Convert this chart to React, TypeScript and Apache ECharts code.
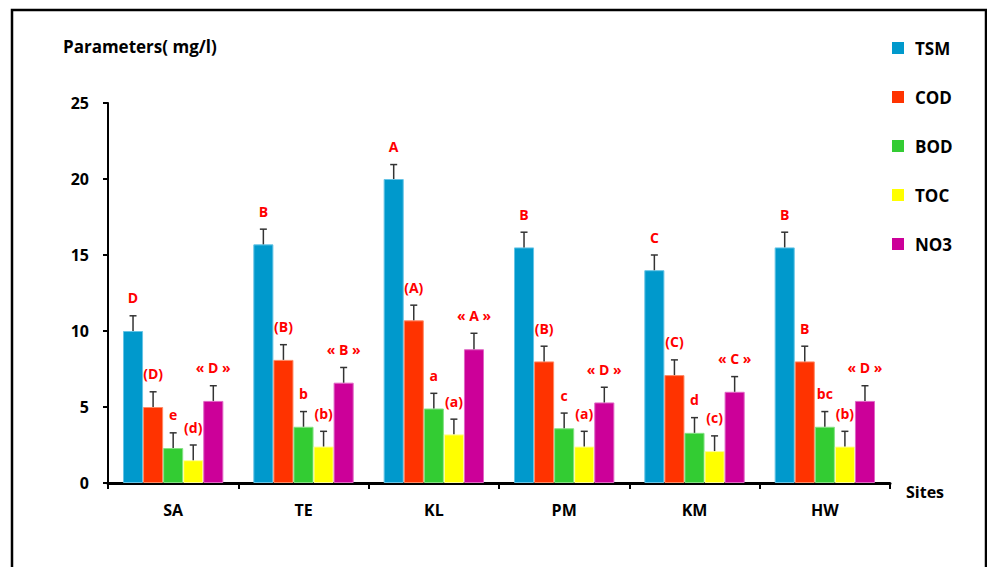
import React, { useEffect, useRef } from "react";
import * as echarts from "echarts";

const sites = ["SA", "TE", "KL", "PM", "KM", "HW"];
const seriesNames = ["TSM", "COD", "BOD", "TOC", "NO3"];
const colors = ["#0099CC", "#FF3300", "#33CC33", "#FFFF00", "#CC0099"];
const edgeColors = ["#66C4E6", "#FF8A66", "#85E085", "#FFFF99", "#E066C4"];

const tsm = [10.0, 15.7, 20.0, 15.5, 14.0, 15.5];
const cod = [5.0, 8.1, 10.7, 8.0, 7.1, 8.0];
const bod = [2.3, 3.7, 4.9, 3.6, 3.3, 3.7];
const toc = [1.5, 2.4, 3.2, 2.4, 2.1, 2.4];
const no3 = [5.4, 6.6, 8.8, 5.3, 6.0, 5.4];

const tsmErr = [1.0, 1.0, 0.95, 1.0, 1.0, 1.0];
const codErr = [1.0, 1.0, 1.0, 1.0, 1.0, 1.0];
const bodErr = [1.0, 1.0, 1.0, 1.0, 1.0, 1.0];
const tocErr = [1.0, 1.0, 1.0, 1.0, 1.0, 1.0];
const no3Err = [1.0, 1.0, 1.05, 1.0, 1.0, 1.0];

const tsmLabels = ["D", "B", "A", "B", "C", "B"];
const codLabels = ["(D)", "(B)", "(A)", "(B)", "(C)", "B"];
const bodLabels = ["e", "b", "a", "c", "d", "bc"];
const tocLabels = ["(d)", "(b)", "(a)", "(a)", "(c)", "(b)"];
const no3Labels = ["« D »", "« B »", "« A »", "« D »", "« C »", "« D »"];

const yTicks = [0, 5, 10, 15, 20, 25];

const values = [tsm, cod, bod, toc, no3];
const errors = [tsmErr, codErr, bodErr, tocErr, no3Err];
const labels = [tsmLabels, codLabels, bodLabels, tocLabels, no3Labels];

const FONT = "'Open Sans', Lato, sans-serif";
const GAP = 0.23;

export default function App() {
  const ref = useRef<HTMLDivElement>(null);
  useEffect(() => {
    if (!ref.current) return;
    const chart = echarts.init(ref.current, null, { renderer: "svg" });

    const barSeries = seriesNames.map((name, i) => ({
      name,
      type: "bar",
      data: values[i],
      barGap: "0%",
      barCategoryGap: GAP * 100 + "%",
      itemStyle: { color: colors[i], borderColor: edgeColors[i], borderWidth: 1 },
      z: 2,
    }));

    const errSeries = seriesNames.map((name, i) => ({
      name: name + "_err",
      type: "custom",
      z: 5,
      clip: false,
      encode: { x: 0, y: 1 },
      data: values[i].map((v, k) => [k, v, errors[i][k]]),
      renderItem: (params: any, api: any) => {
        const cat = api.value(0);
        const v = api.value(1);
        const e = api.value(2);
        const band = api.size([1, 0])[0];
        const bw = (band * (1 - GAP)) / seriesNames.length;
        const off = (i - (seriesNames.length - 1) / 2) * bw;
        const p0 = api.coord([cat, v]);
        const p1 = api.coord([cat, v + e]);
        const x = p0[0] + off;
        const lbl = labels[i][params.dataIndex];
        return {
          type: "group",
          children: [
            {
              type: "line",
              shape: { x1: x, y1: p0[1], x2: x, y2: p1[1] },
              style: { stroke: "#333333", lineWidth: 1.5 },
            },
            {
              type: "line",
              shape: { x1: x - 3.5, y1: p1[1], x2: x + 3.5, y2: p1[1] },
              style: { stroke: "#333333", lineWidth: 1.5 },
            },
            {
              type: "text",
              x: x,
              y: p1[1] - 18,
              style: {
                text: lbl,
                fill: "#FF0000",
                font: "bold 14px " + FONT,
                align: "center",
                verticalAlign: "middle",
              },
            },
          ],
        };
      },
    }));

    chart.setOption({
      animation: false,
      backgroundColor: "#ffffff",
      textStyle: { fontFamily: FONT },
      grid: { left: 108, top: 103, width: 782, height: 380, containLabel: false },
      legend: {
        data: seriesNames,
        orient: "vertical",
        left: 887,
        top: 34,
        itemWidth: 12,
        itemHeight: 12,
        itemGap: 31,
        icon: "rect",
        itemStyle: { borderWidth: 0 },
        textStyle: {
          fontSize: 17,
          fontWeight: "bold",
          color: "#000",
          fontFamily: FONT,
          lineHeight: 18,
          padding: [0, 0, 0, 6],
        },
        selectedMode: false,
      },
      xAxis: {
        type: "category",
        data: sites,
        name: "Sites",
        nameLocation: "end",
        nameGap: 16,
        nameTextStyle: {
          fontSize: 16,
          fontWeight: "bold",
          color: "#000",
          fontFamily: FONT,
          verticalAlign: "top",
          lineHeight: 18,
        },
        axisLine: { lineStyle: { color: "#000", width: 3 } },
        axisTick: { show: true, length: 6, lineStyle: { color: "#000", width: 2 }, interval: 0 },
        axisLabel: {
          fontSize: 16,
          fontWeight: "bold",
          color: "#000",
          fontFamily: FONT,
          margin: 19,
          interval: 0,
        },
      },
      yAxis: {
        type: "value",
        min: yTicks[0],
        max: yTicks[yTicks.length - 1],
        interval: 5,
        name: "Parameters( mg/l)",
        nameLocation: "end",
        nameGap: 57,
        nameTextStyle: {
          fontSize: 17,
          fontWeight: "bold",
          color: "#000",
          fontFamily: FONT,
          align: "left",
          verticalAlign: "middle",
          padding: [0, 0, 0, -45],
        },
        splitLine: { show: false },
        axisLine: { show: true, lineStyle: { color: "#000", width: 2 } },
        axisTick: { show: true, length: 5, lineStyle: { color: "#000", width: 2 } },
        axisLabel: {
          fontSize: 16,
          fontWeight: "bold",
          color: "#000",
          fontFamily: FONT,
          margin: 19,
        },
      },
      graphic: [
        {
          type: "rect",
          shape: { x: 12, y: 10, width: 974, height: 600 },
          style: { fill: "none", stroke: "#000", lineWidth: 2.5 },
          silent: true,
          z: 0,
        },
      ],
      series: [...barSeries, ...errSeries],
    });
    return () => chart.dispose();
  }, []);
  return (
    <div
      ref={ref}
      style={{ position: "fixed", left: 0, top: 0, width: 987, height: 567, background: "#fff" }}
    />
  );
}
